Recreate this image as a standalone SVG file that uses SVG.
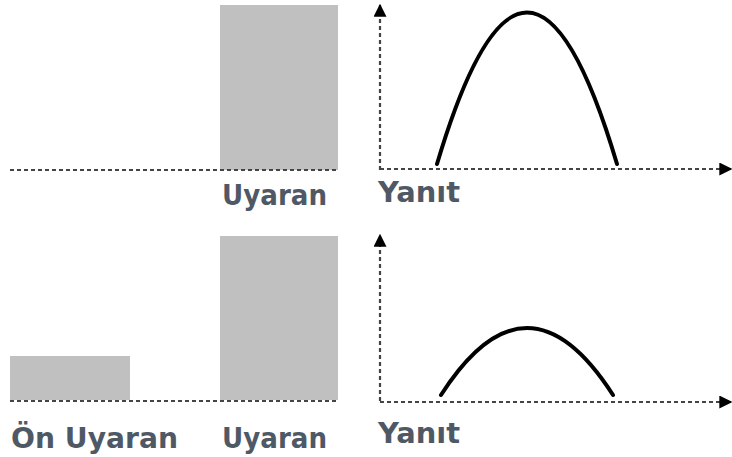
<svg xmlns="http://www.w3.org/2000/svg" width="732" height="457" viewBox="0 0 732 457">
<style>
.bar{fill:#c0c0c0}
.dash{stroke:#444;stroke-width:2.2;stroke-dasharray:4 3;fill:none}
.curve{stroke:#000;stroke-width:4;fill:none;stroke-linecap:round}
.lbl{font-family:"DejaVu Sans",sans-serif;font-weight:bold;font-size:28px;fill:#4f5865}
</style>
<defs>
<marker id="ah2" viewBox="0 0 10 10" refX="9" refY="5" markerWidth="13" markerHeight="13" orient="auto" markerUnits="userSpaceOnUse">
<path d="M0,0 L10,5 L0,10 z" fill="#000"/>
</marker>
</defs>
<g id="top-panel">
<g id="top-stimulus">
<rect class="bar" x="220" y="5" width="118" height="165"/>
<line class="dash" x1="10" y1="170" x2="338" y2="170"/>
<text class="lbl" x="222" y="205" textLength="105" lengthAdjust="spacingAndGlyphs">Uyaran</text>
</g>
<g id="top-response">
<line class="dash" x1="380" y1="170" x2="380" y2="5" marker-end="url(#ah2)"/>
<line class="dash" x1="380" y1="169" x2="731" y2="169" marker-end="url(#ah2)"/>
<path class="curve" d="M437,164 Q527,-139 617,164"/>
<text class="lbl" x="378" y="202" textLength="82" lengthAdjust="spacingAndGlyphs">Yanıt</text>
</g>
</g>
<g id="bottom-panel">
<g id="bottom-stimulus">
<rect class="bar" x="10" y="356" width="120" height="44"/>
<rect class="bar" x="220" y="236" width="118" height="164"/>
<line class="dash" x1="10" y1="401" x2="338" y2="401"/>
<text class="lbl" x="11" y="448" textLength="167" lengthAdjust="spacingAndGlyphs">Ön Uyaran</text>
<text class="lbl" x="222" y="448" textLength="105" lengthAdjust="spacingAndGlyphs">Uyaran</text>
</g>
<g id="bottom-response">
<line class="dash" x1="380" y1="401" x2="380" y2="235" marker-end="url(#ah2)"/>
<line class="dash" x1="380" y1="402" x2="731" y2="402" marker-end="url(#ah2)"/>
<path class="curve" d="M441,395 Q527,261 613,395"/>
<text class="lbl" x="378" y="443" textLength="82" lengthAdjust="spacingAndGlyphs">Yanıt</text>
</g>
</g>
</svg>
